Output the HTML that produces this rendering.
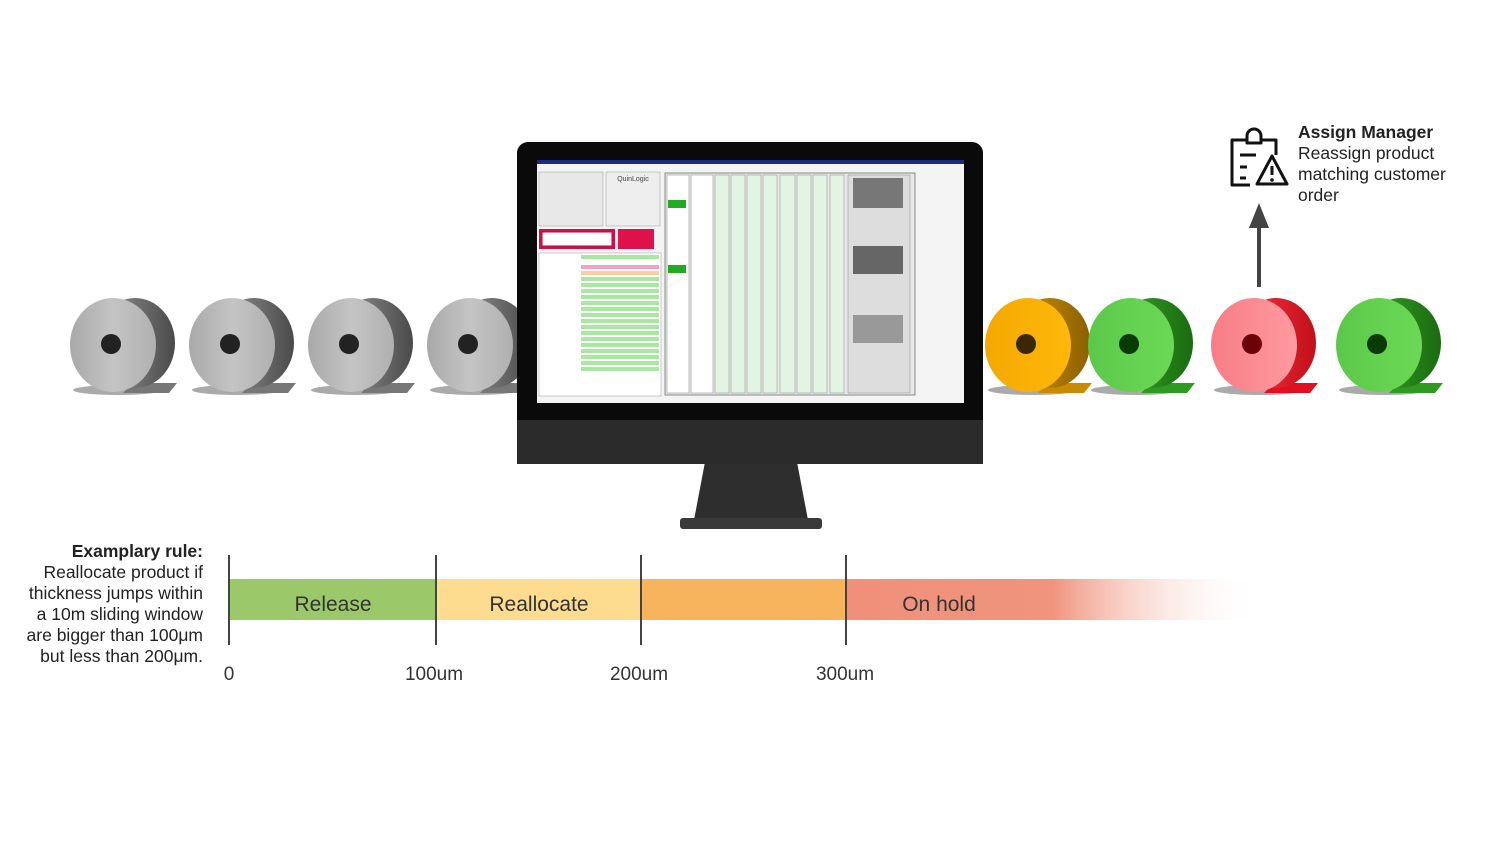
<!DOCTYPE html>
<html><head><meta charset="utf-8"><style>
body{margin:0;width:1500px;height:844px;background:#fff;position:relative;overflow:hidden;font-family:"Liberation Sans",sans-serif;color:#222}
.abs{position:absolute}
</style></head><body>
<svg class="abs" style="left:0;top:0" width="1500" height="844">
<defs>
<linearGradient id="gf" x1="0" x2="1"><stop offset="0" stop-color="#a9a9a9"/><stop offset=".5" stop-color="#c4c4c4"/><stop offset="1" stop-color="#b0b0b0"/></linearGradient>
<linearGradient id="gb" x1="0" x2="1"><stop offset="0" stop-color="#9a9a9a"/><stop offset="1" stop-color="#4a4a4a"/></linearGradient>
<linearGradient id="of" x1="0" x2="1"><stop offset="0" stop-color="#f4a800"/><stop offset="1" stop-color="#ffb80a"/></linearGradient>
<linearGradient id="ob" x1="0" x2="1"><stop offset="0" stop-color="#d89600"/><stop offset="1" stop-color="#8a6000"/></linearGradient>
<linearGradient id="nf" x1="0" x2="1"><stop offset="0" stop-color="#5cc84a"/><stop offset="1" stop-color="#6bd955"/></linearGradient>
<linearGradient id="nb" x1="0" x2="1"><stop offset="0" stop-color="#3aa82a"/><stop offset="1" stop-color="#1a6a10"/></linearGradient>
<linearGradient id="rf" x1="0" x2="1"><stop offset="0" stop-color="#f77d86"/><stop offset="1" stop-color="#ff9aa0"/></linearGradient>
<linearGradient id="rb" x1="0" x2="1"><stop offset="0" stop-color="#ff3340"/><stop offset="1" stop-color="#c0101a"/></linearGradient>
<linearGradient id="fade" x1="0" x2="1"><stop offset="0" stop-color="#f0907a"/><stop offset=".5" stop-color="#f0947e"/><stop offset="1" stop-color="#fff" stop-opacity="0"/></linearGradient>
</defs>
<g id="c1" transform="translate(113,345)">
<ellipse cx="5" cy="45" rx="45" ry="5" fill="#aaa"/>
<path d="M20,38 L64,38 L56,48 L10,48Z" fill="#777"/>
<ellipse cx="22" cy="-2" rx="40" ry="45" fill="url(#gb)"/>
<ellipse cx="0" cy="0" rx="43" ry="47" fill="url(#gf)"/>
<circle cx="-2" cy="-1" r="10" fill="#222"/>
</g>
<use href="#c1" x="119"/><use href="#c1" x="238"/><use href="#c1" x="357"/>
<g transform="translate(1028,345)">
<ellipse cx="5" cy="45" rx="45" ry="5" fill="#aaa"/>
<path d="M20,38 L64,38 L56,48 L10,48Z" fill="#c88a00"/>
<ellipse cx="22" cy="-2" rx="40" ry="45" fill="url(#ob)"/>
<ellipse cx="0" cy="0" rx="43" ry="47" fill="url(#of)"/>
<circle cx="-2" cy="-1" r="10" fill="#3a2800"/></g>
<g id="g1" transform="translate(1131,345)">
<ellipse cx="5" cy="45" rx="45" ry="5" fill="#aaa"/>
<path d="M20,38 L64,38 L56,48 L10,48Z" fill="#2e9a20"/>
<ellipse cx="22" cy="-2" rx="40" ry="45" fill="url(#nb)"/>
<ellipse cx="0" cy="0" rx="43" ry="47" fill="url(#nf)"/>
<circle cx="-2" cy="-1" r="10" fill="#0a3a05"/></g>
<use href="#g1" x="248"/>
<g transform="translate(1254,345)">
<ellipse cx="5" cy="45" rx="45" ry="5" fill="#aaa"/>
<path d="M20,38 L64,38 L56,48 L10,48Z" fill="#e01020"/>
<ellipse cx="22" cy="-2" rx="40" ry="45" fill="url(#rb)"/>
<ellipse cx="0" cy="0" rx="43" ry="47" fill="url(#rf)"/>
<circle cx="-2" cy="-1" r="10" fill="#6a0008"/></g>
<path d="M705,462 L797,462 L808,520 L694,520Z" fill="#2e2e2e"/>
<rect x="680" y="518" width="142" height="11" rx="3" fill="#3a3a3a"/>
<rect x="517" y="142" width="466" height="322" rx="11" fill="#0a0a0a"/>
<rect x="517" y="420" width="466" height="44" fill="#2b2b2b"/>
<rect x="517" y="452" width="466" height="12" rx="10" fill="#2b2b2b"/>
<rect x="537" y="160" width="427" height="243" fill="#f4f4f4"/>
<rect x="537" y="160" width="427" height="4" fill="#1a2a80"/>
<rect x="539" y="172" width="64" height="54" fill="#e8e8e8" stroke="#999" stroke-width=".5"/>
<rect x="606" y="172" width="54" height="54" fill="#eee" stroke="#999" stroke-width=".5"/>
<text x="633" y="181" font-size="7" text-anchor="middle" fill="#444">QuinLogic</text>
<rect x="539" y="229" width="76" height="20" fill="#d0104a"/>
<rect x="542" y="232" width="70" height="14" fill="#fff" stroke="#c03" stroke-width="1"/>
<rect x="618" y="229" width="36" height="20" fill="#e0104a"/>
<rect x="539" y="253" width="122" height="143" fill="#fff" stroke="#999" stroke-width=".5"/>
<g fill="#a8e8a0">
<rect x="581" y="255" width="78" height="4"/><rect x="581" y="265" width="78" height="4" fill="#f4a0c0"/><rect x="581" y="271" width="78" height="4" fill="#f8d0a0"/>
<rect x="581" y="277" width="78" height="4"/><rect x="581" y="283" width="78" height="4"/><rect x="581" y="289" width="78" height="4"/><rect x="581" y="295" width="78" height="4"/><rect x="581" y="301" width="78" height="4"/><rect x="581" y="307" width="78" height="4"/><rect x="581" y="313" width="78" height="4"/><rect x="581" y="319" width="78" height="4"/><rect x="581" y="325" width="78" height="4"/><rect x="581" y="331" width="78" height="4"/><rect x="581" y="337" width="78" height="4"/><rect x="581" y="343" width="78" height="4"/><rect x="581" y="349" width="78" height="4"/><rect x="581" y="355" width="78" height="4"/><rect x="581" y="361" width="78" height="4"/><rect x="581" y="367" width="78" height="4"/>
</g>
<rect x="665" y="173" width="250" height="222" fill="#e8e8e8" stroke="#888"/>
<g fill="#fff" stroke="#999" stroke-width=".6">
<rect x="667" y="175" width="22" height="218"/><rect x="691" y="175" width="22" height="218"/>
<rect x="715" y="175" width="14" height="218" fill="#e4f4e4"/><rect x="731" y="175" width="14" height="218" fill="#e4f4e4"/><rect x="747" y="175" width="14" height="218" fill="#e4f4e4"/><rect x="763" y="175" width="14" height="218" fill="#e4f4e4"/><rect x="780" y="175" width="15" height="218" fill="#e4f4e4"/><rect x="797" y="175" width="14" height="218" fill="#e4f4e4"/><rect x="813" y="175" width="14" height="218" fill="#e4f4e4"/><rect x="830" y="175" width="14" height="218" fill="#e4f4e4"/>
<rect x="848" y="175" width="62" height="218" fill="#ddd"/>
</g>
<rect x="853" y="178" width="50" height="30" fill="#777"/><rect x="853" y="246" width="50" height="28" fill="#666"/><rect x="853" y="315" width="50" height="28" fill="#999"/>
<rect x="668" y="200" width="18" height="8" fill="#2a2"/><rect x="668" y="265" width="18" height="8" fill="#2a2"/>
<rect x="229" y="579" width="207" height="41" fill="#9bc96a"/>
<rect x="436" y="579" width="205" height="41" fill="#fddb8f"/>
<rect x="641" y="579" width="205" height="41" fill="#f7b45d"/>
<rect x="846" y="579" width="414" height="41" fill="url(#fade)"/>
<g stroke="#444" stroke-width="2"><line x1="229" y1="555" x2="229" y2="645"/><line x1="436" y1="555" x2="436" y2="645"/><line x1="641" y1="555" x2="641" y2="645"/><line x1="846" y1="555" x2="846" y2="645"/></g>
<g font-size="21" fill="#333" text-anchor="middle" font-family="Liberation Sans">
<text x="333" y="611">Release</text><text x="539" y="611">Reallocate</text><text x="939" y="611">On hold</text>
<text x="229" y="680" font-size="19">0</text><text x="434" y="680" font-size="19">100um</text><text x="639" y="680" font-size="19">200um</text><text x="845" y="680" font-size="19">300um</text>
</g>
<line x1="1259" y1="225" x2="1259" y2="287" stroke="#444" stroke-width="4"/>
<path d="M1249,228 L1259,203 L1269,228Z" fill="#444"/>
<g fill="none" stroke="#111" stroke-width="3" stroke-linejoin="round">
<path d="M1246,140 L1232,140 L1232,185 L1250,185"/>
<path d="M1262,140 L1276,140 L1276,155"/>
<path d="M1247,143 L1247,136 A7,7 0 0 1 1261,136 L1261,143 Z"/>
<line x1="1240" y1="155" x2="1256" y2="155"/><line x1="1240" y1="167" x2="1247" y2="167"/><line x1="1240" y1="178" x2="1246" y2="178"/>
<path d="M1272,156 L1287,184 L1257,184 Z"/>
</g>
<line x1="1272" y1="166" x2="1272" y2="175" stroke="#111" stroke-width="3"/><circle cx="1272" cy="180" r="1.8" fill="#111"/>
</svg>
<div class="abs" style="left:1298px;top:122px;font-size:17.5px;line-height:21px;color:#222"><b>Assign Manager</b><br>Reassign product<br>matching customer<br>order</div>
<div class="abs" style="left:0;width:203px;top:541px;font-size:17.5px;line-height:21px;text-align:right;color:#222"><b>Examplary rule:</b><br>Reallocate product if<br>thickness jumps within<br>a 10m sliding window<br>are bigger than 100μm<br>but less than 200μm.</div>
</body></html>
